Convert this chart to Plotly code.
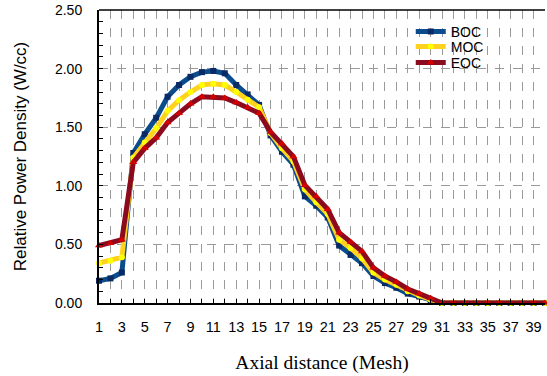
import plotly.graph_objects as go

mesh = list(range(1, 41))
boc = [0.19, 0.21, 0.26, 1.28, 1.44, 1.58, 1.76, 1.86, 1.93, 1.97,
       1.98, 1.96, 1.86, 1.78, 1.69, 1.43, 1.29, 1.18, 0.91, 0.83,
       0.73, 0.49, 0.41, 0.34, 0.23, 0.17, 0.13, 0.08, 0.055, 0.025,
       0, 0, 0, 0, 0, 0, 0, 0, 0, 0]
moc = [0.34, 0.36, 0.39, 1.24, 1.37, 1.49, 1.64, 1.73, 1.80, 1.86,
       1.87, 1.86, 1.80, 1.735, 1.67, 1.45, 1.32, 1.21, 0.97, 0.86,
       0.76, 0.54, 0.47, 0.38, 0.26, 0.20, 0.155, 0.10, 0.065, 0.03,
       0, 0, 0, 0, 0, 0, 0, 0, 0, 0]
eoc = [0.49, 0.51, 0.54, 1.20, 1.32, 1.41, 1.54, 1.62, 1.70, 1.76,
       1.76, 1.75, 1.71, 1.67, 1.62, 1.46, 1.36, 1.25, 1.005, 0.91,
       0.80, 0.60, 0.52, 0.44, 0.30, 0.23, 0.18, 0.12, 0.08, 0.04,
       0, 0, 0, 0, 0, 0, 0, 0, 0, 0]
tick_vals = list(range(1, 40, 2))
tick_text = [str(v) for v in tick_vals]

fig = go.Figure()
fig.add_trace(go.Scatter(x=mesh, y=boc, name="BOC", mode="lines+markers",
                         line=dict(color="#0B4C8C", width=5),
                         marker=dict(symbol="square", size=6, color="#0A2A66"),
                         cliponaxis=False, legend="legend"))
fig.add_trace(go.Scatter(x=mesh, y=moc, name="MOC", mode="lines+markers",
                         line=dict(color="#FFD21E", width=5),
                         marker=dict(symbol="circle", size=6, color="#FFFF00"),
                         cliponaxis=False, legend="legend2"))
fig.add_trace(go.Scatter(x=mesh, y=eoc, name="EOC", mode="lines+markers",
                         line=dict(color="#8C0A1E", width=5),
                         marker=dict(symbol="triangle-up", size=7, color="#D40000"),
                         cliponaxis=False, legend="legend3"))

leg = dict(x=0.699, xanchor="left", yanchor="top", bgcolor="rgba(0,0,0,0)",
           font=dict(size=14), itemwidth=30)
fig.update_layout(
    width=547, height=376,
    margin=dict(l=99, r=2, t=10, b=73),
    paper_bgcolor="white", plot_bgcolor="white",
    font=dict(family="Liberation Sans, Arial", color="black"),
    legend=dict(leg, y=0.980),
    legend2=dict(leg, y=0.929),
    legend3=dict(leg, y=0.874),
    showlegend=True,
    shapes=[dict(type="line", xref="paper", yref="paper", x0=0, x1=1, y0=1, y1=1,
                 line=dict(color="black", width=1.5), layer="above")],
)
fig.update_xaxes(
    range=[1, 40], tickmode="array", tickvals=tick_vals, ticktext=tick_text,
    tickfont=dict(size=14.5), ticks="inside", ticklen=4, tickcolor="black",
    showline=True, linecolor="black", linewidth=2,
    showgrid=True, gridcolor="#9a9a9a", griddash="dash", gridwidth=1,
    minor=dict(dtick=1, tick0=1, showgrid=True, gridcolor="#9a9a9a",
               griddash="dash", ticks="inside", ticklen=4, tickcolor="black"),
    ticklabelstandoff=10,
    zeroline=False, automargin=False,
    title=dict(text="Axial distance (Mesh)",
               font=dict(family="Liberation Serif, Times New Roman", size=19.5),
               standoff=21),
)
fig.update_yaxes(
    range=[0, 2.5], dtick=0.5, tickformat=".2f",
    tickfont=dict(size=14), ticks="inside", ticklen=4, tickcolor="black",
    showline=True, linecolor="black", linewidth=2,
    showgrid=True, gridcolor="#9a9a9a", griddash="dash", gridwidth=1,
    minor=dict(dtick=0.1, ticks="inside", ticklen=4, tickcolor="black", showgrid=False),
    ticklabelstandoff=12, ticklabeloverflow="allow",
    zeroline=False, automargin=False,
    title=dict(text="Relative Power Density (W/cc)", font=dict(size=17), standoff=24),
)
fig.write_html("out.html", config={"displayModeBar": False},
               post_script="document.body.style.margin='0';document.body.style.padding='0';")
